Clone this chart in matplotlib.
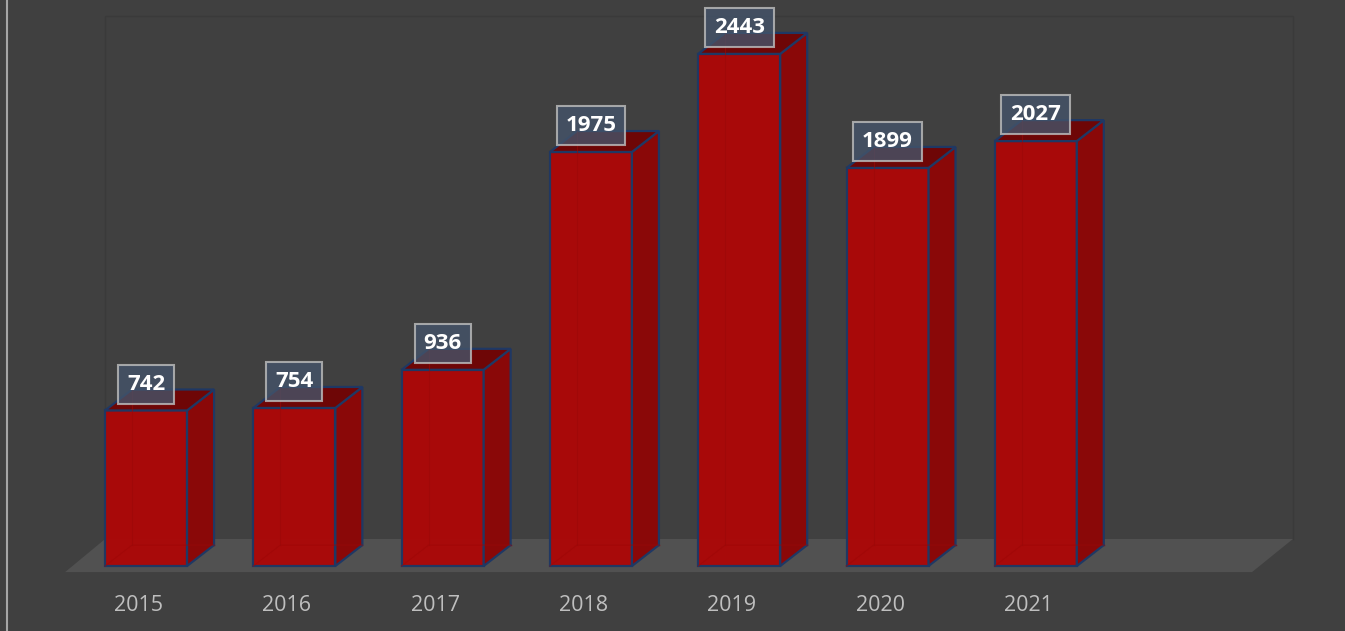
import matplotlib
matplotlib.use('Agg')
import matplotlib.pyplot as plt
from matplotlib.patches import Polygon
from matplotlib.lines import Line2D

# data
years = ['2015', '2016', '2017', '2018', '2019', '2020', '2021']
counts = [742, 754, 936, 1975, 2443, 1899, 2027]

plt.rcParams['font.family'] = ['Open Sans', 'DejaVu Sans']

bg = '#404040'
front_col = '#AC0808'
side_col = '#8A0808'
top_col = '#6E0606'
edge_col = '#1F3864'

fig = plt.figure(figsize=(13.45, 6.31), dpi=100, facecolor=bg)
ax = fig.add_axes([0, 0, 1, 1])
ax.set_facecolor(bg)
ax.set_xlim(-0.985, 8.085)
ax.set_ylim(-310, 2700)
ax.axis('off')

w = 0.553      # bar width
dx = 0.182     # depth shift in x
dy = 100       # depth shift in y

# floor and back wall
n_slots = 8
fl_front, fl_back = -29, 129
floor = Polygon([(-0.546, fl_front), (n_slots - 0.542, fl_front),
                 (n_slots - 0.266, fl_back), (-0.276, fl_back)],
                closed=True, facecolor='#515151', edgecolor='none', zorder=1)
ax.add_patch(floor)
wall_top = 2624
ax.plot([-0.276, -0.276, n_slots - 0.266, n_slots - 0.266],
        [fl_back, wall_top, wall_top, fl_back], color='#3A3A3A', lw=1, zorder=0.5)

for i, v in enumerate(counts):
    x0 = i - w / 2
    x1 = i + w / 2
    # hidden back edges
    ax.plot([x0 + dx, x0 + dx, x1 + dx], [v + dy, dy, dy], color='#950707', lw=1, zorder=2)
    ax.plot([x0, x0 + dx], [0, dy], color='#950707', lw=1, zorder=2)
    front = Polygon([(x0, 0), (x1, 0), (x1, v), (x0, v)], closed=True,
                    facecolor=front_col, edgecolor=edge_col, lw=1.6, alpha=0.97, zorder=3)
    side = Polygon([(x1, 0), (x1 + dx, dy), (x1 + dx, v + dy), (x1, v)], closed=True,
                   facecolor=side_col, edgecolor=edge_col, lw=1.6, zorder=3)
    top = Polygon([(x0, v), (x1, v), (x1 + dx, v + dy), (x0 + dx, v + dy)], closed=True,
                  facecolor=top_col, edgecolor=edge_col, lw=1.6, zorder=3)
    for p in (front, side, top):
        ax.add_patch(p)
    # faint hidden edges drawn over the faces
    ax.plot([x0 + dx, x0 + dx], [dy, v + dy], color='#9A0909', lw=0.8, zorder=3.5, alpha=0.6)
    ax.plot([x0, x0 + dx, x1 + dx], [0, dy, dy], color='#9A0909', lw=0.8, zorder=3.5, alpha=0.6)

    ax.text(i, v + 125, str(v), ha='center', va='center', fontsize=16, fontweight='bold',
            color='white', zorder=5,
            bbox=dict(boxstyle='square,pad=0.4', facecolor='#44546A', alpha=0.8,
                      edgecolor='#BFBFBF', lw=1.5))
    ax.text(i - 0.05, -188, years[i], ha='center', va='center', fontsize=15.5,
            color='#BFBFBF', zorder=5)

fig.add_artist(Line2D([0.0052, 0.0052], [0, 1], transform=fig.transFigure,
                      color='#A6A6A6', lw=1.5))

plt.savefig('out.png', dpi=100, facecolor=bg)
